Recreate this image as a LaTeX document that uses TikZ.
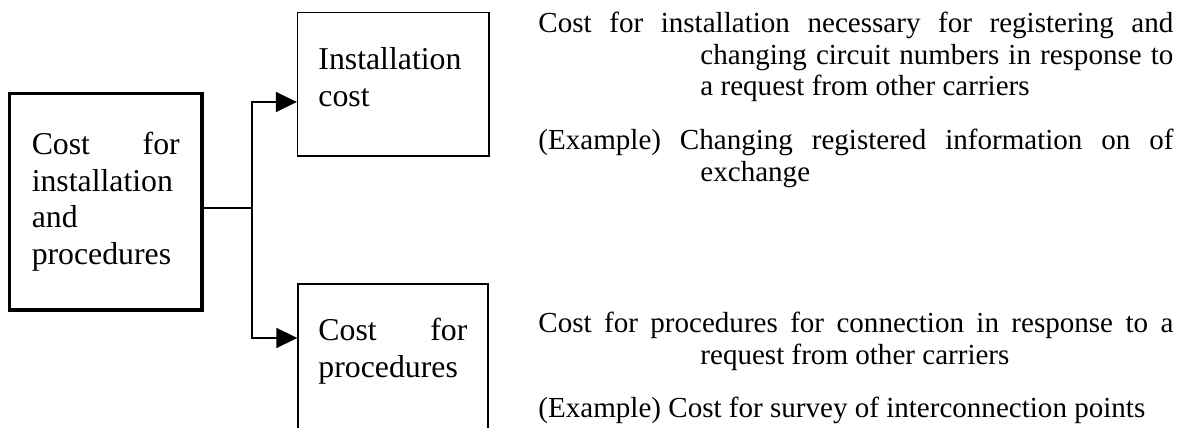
\documentclass[tikz,border=0pt]{standalone}
\usepackage{fontspec}
\setmainfont{Liberation Serif}
\usetikzlibrary{arrows.meta}
\begin{document}
\begin{tikzpicture}[x=0.4405pt,y=-0.4405pt,
  thinbox/.style={draw, line width=0.6pt, inner sep=0pt},
  bigbox/.style={draw, line width=1.4pt, inner xsep=9.8pt, inner ysep=0pt,
    text width=65.19pt, align=justify, font=\fontsize{14}{16.1}\selectfont},
  boxtext/.style={anchor=base west, inner sep=0pt, text width=65.63pt,
    align=justify, font=\fontsize{14}{15.86}\selectfont},
  desc/.style={anchor=base west, inner sep=0pt, text width=279.7pt,
    align=justify, font=\fontsize{12.8}{13.66}\selectfont},
  conn/.style={draw, line width=0.6pt},
  tip/.style={-{Triangle[length=9.2pt,width=8.8pt]}}]
\useasboundingbox (0,0) rectangle (1186,428);
\clip (0,0) rectangle (1186,428);

% left box
\node[bigbox, minimum width=84.8pt, minimum height=95.37pt] (L) at (105.75,201.75)
  {Cost for\linebreak installation\newline and\newline procedures};

% right boxes
\node[thinbox, minimum width=84.36pt, minimum height=63.21pt] (T) at (393.25,84.25) {};
\node[boxtext] (Tt) at (318,70) {Installation\newline cost};
\node[thinbox, minimum width=83.7pt, minimum height=79.3pt] (B) at (393,374) {};
\node[boxtext] (Bt) at (318,341) {Cost for\linebreak procedures};

% connectors
\coordinate (J) at (252,208);
\draw[conn] (L.east |- J) -- (J);
\draw[conn,tip] (J) |- ([yshift=-7.82pt]T.west);
\draw[conn,tip] (J) |- ([yshift=15.86pt]B.west);

% descriptions
\node[desc] (d1) at (538,33) {\hangindent=71.36pt\hangafter=1 Cost for installation necessary for registering and\linebreak changing circuit numbers in response to\linebreak a request from other carriers\par};
\node[desc] (d2) at (538,150) {\hangindent=71.36pt\hangafter=1 (Example) Changing registered information on of\linebreak exchange\par};
\node[desc] (d3) at (538,333) {\hangindent=71.36pt\hangafter=1 Cost for procedures for connection in response to a\linebreak request from other carriers\par};
\node[desc] (d4) at (538,418) {(Example) Cost for survey of interconnection points\par};
\end{tikzpicture}
\end{document}
